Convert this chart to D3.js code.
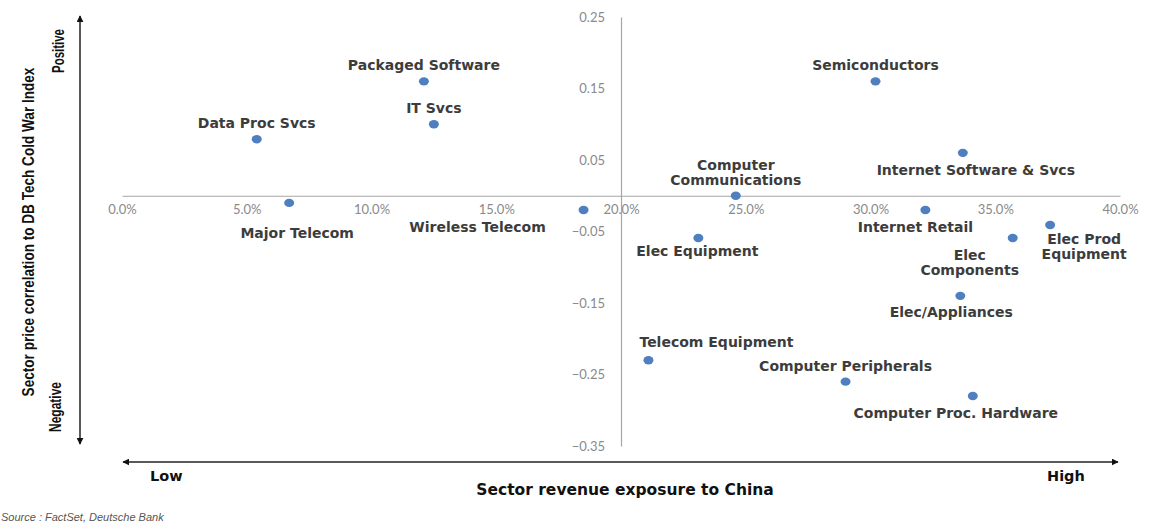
<!DOCTYPE html>
<html><head><meta charset="utf-8">
<script src="https://cdn.jsdelivr.net/npm/d3@7"></script>
<style>body{margin:0;background:#fff;} svg{display:block;}</style>
</head><body>
<svg id="chart" width="1156" height="529"></svg>
<script>
// ---- data ----
const sectors = ["Data Proc Svcs","Major Telecom","Packaged Software","IT Svcs","Wireless Telecom",
  "Computer Communications","Elec Equipment","Telecom Equipment","Semiconductors",
  "Internet Software & Svcs","Internet Retail","Elec Prod Equipment","Elec Components",
  "Elec/Appliances","Computer Peripherals","Computer Proc. Hardware"];
const chinaExposure = [0.054,0.067,0.121,0.125,0.185,0.246,0.231,0.211,0.302,0.337,0.322,0.372,0.357,0.336,0.290,0.341];
const priceCorrelation = [0.079,-0.010,0.160,0.100,-0.020,0.000,-0.059,-0.230,0.160,0.060,-0.020,-0.041,-0.059,-0.140,-0.260,-0.280];
const xTicks = [0,0.05,0.10,0.15,0.20,0.25,0.30,0.35,0.40];
const yTicks = [0.25,0.15,0.05,-0.05,-0.15,-0.25,-0.35];

// label placement (layout, px offsets from point)
const labelLayout = {
  "Data Proc Svcs":[0,-16],
  "Major Telecom":[8,30],
  "Packaged Software":[0,-16],
  "IT Svcs":[0,-16],
  "Wireless Telecom":[-106,17],
  "Computer Communications":[0,-31],
  "Elec Equipment":[-1,13],
  "Telecom Equipment":[68,-18],
  "Semiconductors":[0,-16],
  "Internet Software & Svcs":[13,17],
  "Internet Retail":[-10,17],
  "Elec Prod Equipment":[34,14],
  "Elec Components":[-43,17],
  "Elec/Appliances":[-9,16],
  "Computer Peripherals":[0,-16],
  "Computer Proc. Hardware":[-17,17]
};
const lineBreaks = {"Computer Communications":["Computer","Communications"],
  "Elec Prod Equipment":["Elec Prod","Equipment"],
  "Elec Components":["Elec","Components"]};

// ---- chart ----
const svg = d3.select("#chart");
const x = d3.scaleLinear().domain([0,0.40]).range([122,1120]);
const y = d3.scaleLinear().domain([0.25,-0.35]).range([17,446]);

const xAxis = d3.axisBottom(x).tickValues(xTicks).tickSize(0).tickPadding(9).tickFormat(d3.format(".1%"));
const gx = svg.append("g").attr("transform",`translate(0,${y(0)})`).call(xAxis);
const yAxis = d3.axisLeft(y).tickValues(yTicks).tickSize(0).tickPadding(16).tickFormat(d3.format(".2f"));
const gy = svg.append("g").attr("transform",`translate(${x(0.20)},0)`).call(yAxis);
[gx,gy].forEach(g=>{
  g.select(".domain").attr("stroke","#a6a6a6").attr("stroke-width",1.2);
  g.selectAll("text").attr("fill","#8a8a8a").style("font-family","Lato, 'Open Sans', sans-serif").style("font-size","13px");
});
gx.selectAll(".tick text").attr("dy","0.71em");

// points
const data = sectors.map((s,i)=>({name:s,x:chinaExposure[i],y:priceCorrelation[i]}));
svg.append("g").selectAll("ellipse").data(data).join("ellipse")
  .attr("cx",d=>x(d.x)).attr("cy",d=>y(d.y)).attr("rx",5).attr("ry",4.2).attr("fill","#4f7fbf");

// labels
const lg = svg.append("g").style("font-family","'DejaVu Sans', Verdana, sans-serif").style("font-weight","bold")
  .style("font-size","14px").attr("fill","#3c3c3c");
data.forEach(d=>{
  const [dx,dy] = labelLayout[d.name];
  const lines = lineBreaks[d.name] || [d.name];
  const t = lg.append("text").attr("text-anchor","middle")
    .attr("x",x(d.x)+dx).attr("y",y(d.y)+dy);
  lines.forEach((ln,i)=>t.append("tspan").attr("x",x(d.x)+dx).attr("dy",i===0?"0.35em":"1.1em").text(ln));
});

// arrows
const defs = svg.append("defs");
["s","e"].forEach(k=>{
  defs.append("marker").attr("id","arr"+k).attr("viewBox","0 0 10 10").attr("refX",9).attr("refY",5)
    .attr("markerWidth",7).attr("markerHeight",7).attr("markerUnits","userSpaceOnUse").attr("orient", k==="s"?"auto-start-reverse":"auto")
    .append("path").attr("d","M0,0 L10,5 L0,10 Z").attr("fill","#111");
});
svg.append("line").attr("x1",80).attr("x2",80).attr("y1",16).attr("y2",444)
  .attr("stroke","#222").attr("stroke-width",1.5).attr("marker-start","url(#arrs)").attr("marker-end","url(#arre)");
svg.append("line").attr("x1",123).attr("x2",1118).attr("y1",462).attr("y2",462)
  .attr("stroke","#222").attr("stroke-width",1.5).attr("marker-start","url(#arrs)").attr("marker-end","url(#arre)");

// condensed rotated titles (horizontal squeeze via scale to fit target length)
const narrow = "'Liberation Sans', Arial, sans-serif";
function condensedV(tx, ty, size, target, str){
  const t = svg.append("text").attr("text-anchor","middle")
    .style("font-family",narrow).style("font-weight","bold").style("font-size",size+"px").attr("fill","#111").text(str);
  const len = t.node().getComputedTextLength();
  const s = Math.min(1, target/len);
  t.attr("transform",`translate(${tx},${ty}) rotate(-90) scale(${s},1)`);
}
condensedV(34, 232, 17, 329, "Sector  price correlation to DB Tech Cold War Index");
condensedV(64, 51, 16, 44, "Positive");
condensedV(61, 407, 16, 50, "Negative");

const boldSans = "'DejaVu Sans', Verdana, sans-serif";
svg.append("text").attr("x",150).attr("y",481).style("font-family",boldSans).style("font-weight","bold")
  .style("font-size","14.5px").attr("fill","#111").text("Low");
svg.append("text").attr("x",1047).attr("y",481).style("font-family",boldSans).style("font-weight","bold")
  .style("font-size","14.5px").attr("fill","#111").text("High");
svg.append("text").attr("x",625).attr("y",495).attr("text-anchor","middle").style("font-family",boldSans)
  .style("font-weight","bold").style("font-size","15.5px").attr("fill","#111").text("Sector revenue exposure to China");
svg.append("text").attr("x",1).attr("y",521).style("font-family","'Liberation Sans', Arial, sans-serif")
  .style("font-style","italic").style("font-size","11px").attr("fill","#555").text("Source : FactSet, Deutsche Bank");
</script>
</body></html>
